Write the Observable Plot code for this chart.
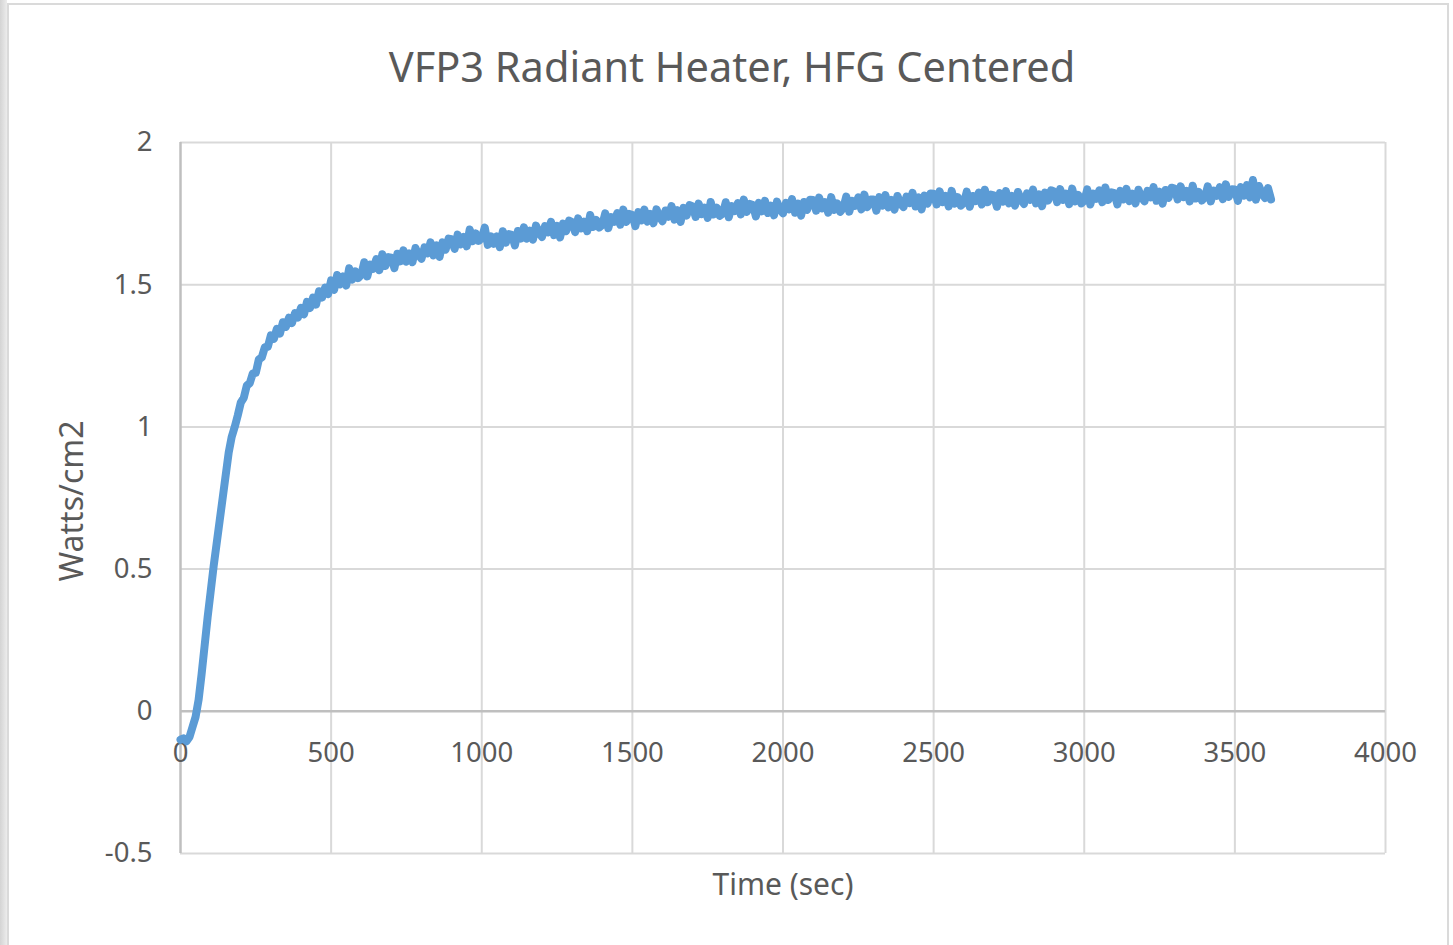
<!DOCTYPE html>
<html>
<head>
<meta charset="utf-8">
<script src="https://cdn.jsdelivr.net/npm/d3@7"></script>
<script src="https://cdn.jsdelivr.net/npm/@observablehq/plot@0.6"></script>
<style>
  html, body { margin: 0; padding: 0; background: #ffffff; }
  #wrap { position: relative; width: 1453px; height: 945px; overflow: hidden; }
  #shade { position: absolute; left: 0; top: 0; width: 7px; height: 945px; background: linear-gradient(to right, #d4d4d4, #ececec); }
  #frame { position: absolute; left: 7px; top: 3px; width: 1442px; height: 950px; border: 2px solid #dadada; box-sizing: border-box; background: #fff; }
  #chart { position: absolute; left: 0; top: 0; }
</style>
</head>
<body>
<div id="wrap">
  <div id="shade"></div>
  <div id="frame"></div>
  <div id="chart"></div>
</div>
<script>
const title = "VFP3 Radiant Heater, HFG Centered";
const xLabel = "Time (sec)";
const yLabel = "Watts/cm2";
const xTicks = [0, 500, 1000, 1500, 2000, 2500, 3000, 3500, 4000];
const yTicks = [-0.5, 0, 0.5, 1, 1.5, 2];
const sampleStep = 10; // seconds between samples

// heat flux readings (W/cm2), one every 10 s from t = 0
const flux = [
  -0.10, -0.095, -0.105, -0.09, -0.055, -0.02, 0.04, 0.13, 0.23, 0.33,
  0.42, 0.51, 0.59, 0.67, 0.75, 0.83, 0.91, 0.965, 1.00, 1.04,
  1.085, 1.102, 1.145, 1.154, 1.188, 1.19, 1.237, 1.245, 1.28, 1.282,
  1.322, 1.31, 1.345, 1.328, 1.368, 1.352, 1.384, 1.365, 1.40, 1.385,
  1.419, 1.396, 1.44, 1.418, 1.455, 1.43, 1.477, 1.455, 1.49, 1.467,
  1.515, 1.482, 1.534, 1.501, 1.529, 1.497, 1.558, 1.518, 1.547, 1.523,
  1.535, 1.579, 1.529, 1.571, 1.556, 1.590, 1.551, 1.607, 1.566, 1.597,
  1.595, 1.558, 1.609, 1.582, 1.621, 1.581, 1.610, 1.579, 1.629, 1.605,
  1.591, 1.631, 1.610, 1.649, 1.603, 1.638, 1.598, 1.649, 1.623, 1.662,
  1.660, 1.626, 1.676, 1.642, 1.668, 1.635, 1.694, 1.653, 1.680, 1.654,
  1.665, 1.701, 1.640, 1.670, 1.644, 1.670, 1.632, 1.688, 1.648, 1.678,
  1.675, 1.638, 1.689, 1.662, 1.702, 1.662, 1.690, 1.658, 1.708, 1.683,
  1.668, 1.706, 1.684, 1.721, 1.674, 1.707, 1.666, 1.715, 1.688, 1.725,
  1.720, 1.685, 1.733, 1.698, 1.722, 1.688, 1.745, 1.703, 1.728, 1.701,
  1.710, 1.751, 1.699, 1.738, 1.721, 1.752, 1.711, 1.764, 1.721, 1.749,
  1.745, 1.706, 1.755, 1.726, 1.764, 1.722, 1.749, 1.716, 1.765, 1.739,
  1.723, 1.761, 1.739, 1.776, 1.729, 1.762, 1.721, 1.770, 1.743, 1.780,
  1.775, 1.738, 1.785, 1.748, 1.771, 1.735, 1.791, 1.747, 1.771, 1.742,
  1.750, 1.790, 1.737, 1.776, 1.759, 1.787, 1.747, 1.799, 1.756, 1.784,
  1.780, 1.740, 1.788, 1.758, 1.795, 1.752, 1.778, 1.744, 1.792, 1.765,
  1.751, 1.788, 1.765, 1.801, 1.753, 1.785, 1.743, 1.791, 1.763, 1.799,
  1.798, 1.760, 1.806, 1.768, 1.790, 1.753, 1.808, 1.763, 1.786, 1.756,
  1.770, 1.810, 1.757, 1.795, 1.777, 1.807, 1.765, 1.817, 1.773, 1.800,
  1.800, 1.760, 1.808, 1.778, 1.815, 1.772, 1.798, 1.764, 1.812, 1.785,
  1.773, 1.810, 1.787, 1.823, 1.775, 1.807, 1.765, 1.813, 1.785, 1.821,
  1.820, 1.782, 1.828, 1.790, 1.812, 1.775, 1.830, 1.785, 1.808, 1.778,
  1.787, 1.827, 1.774, 1.812, 1.794, 1.824, 1.782, 1.834, 1.790, 1.817,
  1.814, 1.774, 1.822, 1.792, 1.829, 1.786, 1.812, 1.778, 1.826, 1.799,
  1.784, 1.821, 1.798, 1.834, 1.786, 1.818, 1.776, 1.824, 1.796, 1.832,
  1.828, 1.790, 1.836, 1.798, 1.820, 1.783, 1.838, 1.793, 1.816, 1.786,
  1.795, 1.835, 1.782, 1.820, 1.802, 1.832, 1.790, 1.842, 1.798, 1.825,
  1.822, 1.782, 1.830, 1.800, 1.837, 1.794, 1.820, 1.786, 1.834, 1.807,
  1.793, 1.830, 1.807, 1.843, 1.795, 1.827, 1.785, 1.833, 1.805, 1.841,
  1.838, 1.800, 1.846, 1.808, 1.830, 1.793, 1.848, 1.803, 1.826, 1.796,
  1.806, 1.846, 1.793, 1.831, 1.813, 1.843, 1.801, 1.853, 1.809, 1.836,
  1.835, 1.795, 1.843, 1.813, 1.850, 1.807, 1.868, 1.799, 1.847, 1.820,
  1.805, 1.840, 1.800
];

const data = flux.map((v, i) => ({t: i * sampleStep, v}));

const font = "'Noto Sans', 'Open Sans', sans-serif";
const textColor = "#595959";
const gridColor = "#d9d9d9";
const axisColor = "#bfbfbf";

const chart = Plot.plot({
  width: 1453,
  height: 945,
  marginLeft: 180,
  marginRight: 68,
  marginTop: 142,
  marginBottom: 92,
  style: {background: "transparent", fontFamily: font, color: textColor, overflow: "visible"},
  x: {domain: [0, 4000], axis: null},
  y: {domain: [-0.5, 2], axis: null},
  marks: [
    Plot.ruleX(xTicks.filter(d => d !== 0), {x: d => d, stroke: gridColor, strokeWidth: 2}),
    Plot.ruleY(yTicks.filter(d => d !== 0), {y: d => d, stroke: gridColor, strokeWidth: 2}),
    Plot.ruleY([0], {y: d => d, stroke: axisColor, strokeWidth: 2.5}),
    Plot.ruleX([0], {x: d => d, stroke: axisColor, strokeWidth: 2.5}),
    Plot.text(yTicks, {
      x: 0, y: d => d, text: d => String(d), textAnchor: "end", dx: -28,
      fontSize: 27.5, fill: textColor
    }),
    Plot.text(xTicks, {
      x: d => d, y: 0, text: d => String(d), dy: 42,
      fontSize: 27.5, fill: textColor
    }),
    Plot.line(data, {
      x: "t", y: "v", stroke: "#5b9bd5", strokeWidth: 8,
      strokeLinejoin: "round", strokeLinecap: "round"
    }),
    Plot.text([title], {
      frameAnchor: "top", dx: -51, dy: -74, text: d => d,
      fontSize: 41.5, fill: textColor, lineAnchor: "middle"
    }),
    Plot.text([xLabel], {
      frameAnchor: "bottom", dy: 32, text: d => d,
      fontSize: 30, fill: textColor, lineAnchor: "middle"
    }),
    Plot.text([yLabel], {
      frameAnchor: "left", dx: -108, dy: 3, text: d => d, rotate: -90,
      textAnchor: "middle", fontSize: 32, fill: textColor, lineAnchor: "middle"
    })
  ]
});

document.getElementById("chart").appendChild(chart);
</script>
</body>
</html>
